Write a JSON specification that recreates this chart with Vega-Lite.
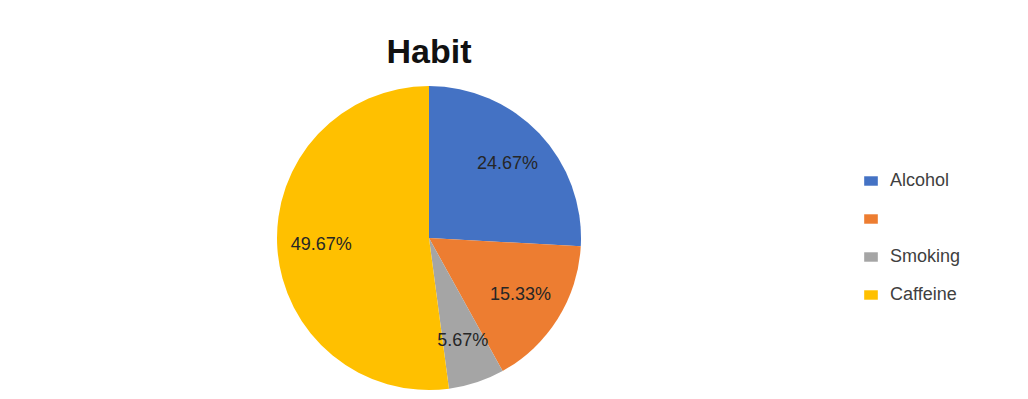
{
  "$schema": "https://vega.github.io/schema/vega-lite/v6.json",
  "width": 858,
  "height": 316,
  "autosize": "none",
  "padding": {"top": 80, "left": 0, "right": 170, "bottom": 3},
  "background": "white",
  "title": {"text": "Habit", "fontSize": 34, "font": "Liberation Sans", "fontWeight": "bold", "color": "#111111", "anchor": "middle", "offset": 10},
  "data": {"values": [
    {"habit": "Alcohol", "pct": 24.67, "label": "24.67%", "order": 1},
    {"habit": " ", "pct": 15.33, "label": "15.33%", "order": 2},
    {"habit": "Smoking", "pct": 5.67, "label": "5.67%", "order": 3},
    {"habit": "Caffeine", "pct": 49.67, "label": "49.67%", "order": 4}
  ]},
  "encoding": {
    "theta": {"field": "pct", "type": "quantitative", "stack": true},
    "order": {"field": "order", "type": "quantitative"}
  },
  "layer": [
    {
      "mark": {"type": "arc", "outerRadius": 152},
      "encoding": {
        "color": {
          "field": "habit",
          "type": "nominal",
          "scale": {"domain": ["Alcohol", " ", "Smoking", "Caffeine"], "range": ["#4472C4", "#ED7D31", "#A5A5A5", "#FFC000"]},
          "legend": {
            "title": null,
            "orient": "none",
            "legendX": 862,
            "legendY": 92,
            "symbolType": "M-1.3,-0.9H1.3V0.9H-1.3Z",
            "symbolSize": 110,
            "symbolStrokeWidth": 0,
            "labelFont": "Liberation Sans",
            "labelFontSize": 18,
            "labelColor": "#404040",
            "rowPadding": 20,
            "labelOffset": 10
          }
        }
      }
    },
    {
      "mark": {"type": "text", "radius": 108, "fontSize": 18, "font": "Liberation Sans", "color": "#262626"},
      "encoding": {"text": {"field": "label"}}
    }
  ],
  "config": {"view": {"stroke": null}}
}
